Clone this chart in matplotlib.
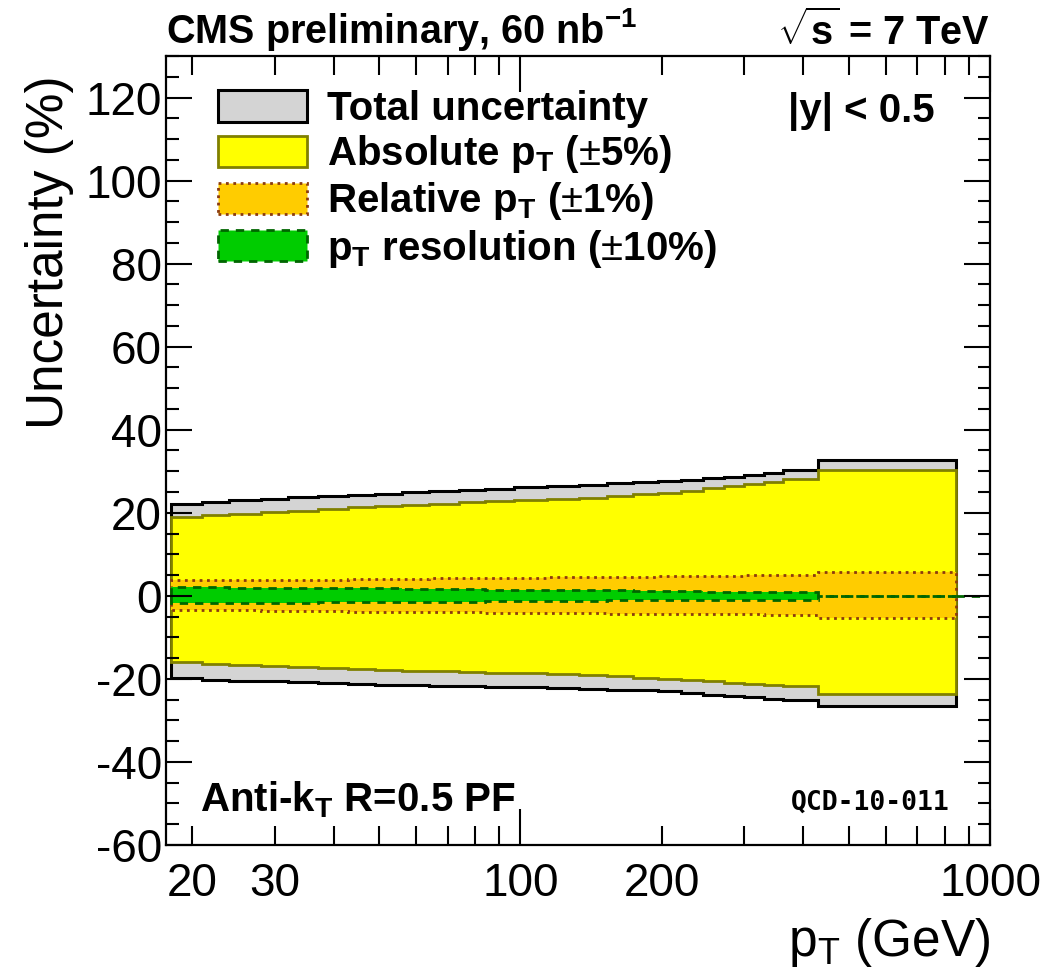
import matplotlib
matplotlib.use("Agg")
import matplotlib.pyplot as plt
from matplotlib.patches import Patch
from matplotlib.ticker import MultipleLocator

plt.rcParams['font.family'] = ['Liberation Sans', 'DejaVu Sans']
plt.rcParams['mathtext.fontset'] = 'custom'
plt.rcParams['mathtext.rm'] = 'Liberation Sans'
plt.rcParams['mathtext.bf'] = 'Liberation Sans:bold'
plt.rcParams['axes.unicode_minus'] = False

# pT bin edges (GeV)
edges = [18, 21, 24, 28, 32, 37, 43, 49, 56, 64, 74, 84, 97, 114, 133, 153,
         174, 196, 220, 245, 272, 300, 330, 362, 430, 846]
tail_edges = [846, 967]

# uncertainties in % per bin
total_up = [22.1, 22.7, 23.0, 23.4, 23.7, 24.0, 24.3, 24.6, 24.9, 25.2, 25.5, 25.8, 26.1,
            26.5, 26.8, 27.1, 27.4, 27.7, 28.0, 28.3, 28.7, 29.1, 29.6, 30.4, 32.8]
total_lo = [-19.8, -20.2, -20.4, -20.6, -20.8, -21.0, -21.2, -21.4, -21.5, -21.7, -21.8, -21.9, -22.0,
            -22.2, -22.4, -22.6, -22.8, -23.0, -23.4, -23.8, -24.1, -24.4, -24.8, -25.2, -26.6]
abs_up = [18.9, 19.5, 19.8, 20.1, 20.5, 20.9, 21.3, 21.6, 21.9, 22.2, 22.5, 22.8, 23.0,
          23.2, 23.6, 24.0, 24.4, 24.8, 25.3, 25.9, 26.4, 26.9, 27.4, 28.1, 30.3]
abs_lo = [-16.0, -16.4, -16.6, -16.9, -17.1, -17.4, -17.6, -17.8, -18.0, -18.2, -18.4, -18.5, -18.7,
          -18.8, -19.1, -19.4, -19.7, -20.0, -20.3, -20.6, -20.9, -21.2, -21.5, -21.8, -23.6]
rel_up = [3.7, 3.7, 3.8, 3.8, 3.9, 3.9, 4.0, 4.1, 4.1, 4.2, 4.3, 4.4, 4.4,
          4.5, 4.5, 4.6, 4.6, 4.7, 4.7, 4.8, 4.8, 4.9, 5.0, 5.1, 5.7]
rel_lo = [-3.4, -3.5, -3.5, -3.6, -3.7, -3.7, -3.8, -3.9, -3.9, -4.0, -4.0, -4.1, -4.1,
          -4.2, -4.2, -4.3, -4.3, -4.3, -4.4, -4.4, -4.5, -4.5, -4.6, -4.6, -5.4]
res_up = [2.1, 2.1, 2.0, 2.0, 1.9, 1.9, 1.85, 1.8, 1.7, 1.7, 1.6, 1.5, 1.5,
          1.4, 1.3, 1.3, 1.2, 1.1, 1.1, 1.0, 1.0, 0.9, 0.9, 0.8, 0.0]
res_lo = [-1.8, -1.8, -1.7, -1.7, -1.7, -1.6, -1.6, -1.5, -1.5, -1.4, -1.4, -1.3, -1.3,
          -1.2, -1.2, -1.1, -1.1, -1.1, -1.0, -1.0, -1.0, -1.0, -0.9, -0.9, 0.0]
tail = [0.0]

labels = ['Total uncertainty',
          r'Absolute p$_\mathregular{T}$ ($\pm$5%)',
          r'Relative p$_\mathregular{T}$ ($\pm$1%)',
          r'p$_\mathregular{T}$ resolution ($\pm$10%)']

xmajor = [100, 1000]
xminor = [20, 30, 40, 50, 60, 70, 80, 90, 200, 300, 400, 500, 600, 700, 800, 900]
xminor_labels = ['20', '30', '', '', '', '', '', '', '200', '', '', '', '', '', '', '']

# style for each band: fill, edge, linestyle, linewidth
bands = [
    (total_up, total_lo, '#d4d4d4', 'black', '-', 2.2),
    (abs_up, abs_lo, '#ffff00', '#808000', '-', 2.0),
    (rel_up, rel_lo, '#ffcc00', '#8b3a0f', ':', 2.0),
    (res_up, res_lo, '#00cc00', '#006600', (0, (3, 2.5)), 2.0),
]

fig = plt.figure(figsize=(10.45, 9.72), dpi=100)
ax = fig.add_axes([0.1589, 0.1307, 0.7885, 0.8117])

handles = []
for up, lo, fc, ec, ls, lw in bands:
    ax.stairs(up, edges, baseline=lo, fill=True, color=fc, lw=0)
    ax.stairs(up, edges, baseline=0, color=ec, ls=ls, lw=lw)
    ax.stairs(lo, edges, baseline=0, color=ec, ls=ls, lw=lw)
    handles.append(Patch(facecolor=fc, edgecolor=ec, linestyle=ls, linewidth=lw))
ax.stairs(tail, tail_edges, baseline=None, color='#006600', ls=(0, (3, 2.5)), lw=2.0)

ax.set_xscale('log')
ax.set_xlim(17.6, 1000)
ax.set_ylim(-60, 130)

ax.set_xticks(xmajor, labels=[str(v) for v in xmajor])
ax.set_xticks(xminor, labels=xminor_labels, minor=True)
ax.set_yticks(range(-60, 121, 20))
ax.yaxis.set_minor_locator(MultipleLocator(5))

ax.tick_params(which='both', direction='in', top=True, right=True, labelsize=33, width=1.5)
ax.tick_params(axis='x', which='major', length=26, pad=12)
ax.tick_params(axis='x', which='minor', length=14, pad=12)
ax.tick_params(axis='y', which='major', length=19, pad=3)
ax.tick_params(axis='y', which='minor', length=9)
for s in ax.spines.values():
    s.set_linewidth(1.6)

ax.set_ylabel('Uncertainty (%)', fontsize=37, loc='top')
ax.yaxis.set_label_coords(-0.112, 0.975)
ax.set_xlabel(r'p$_\mathregular{T}$ (GeV)', fontsize=37, loc='right')
ax.xaxis.set_label_coords(1.0, -0.09)

ax.text(0.0, 1.004, r'CMS preliminary, 60 nb$^\mathregular{-1}$', transform=ax.transAxes,
        fontsize=28.5, fontweight='bold', ha='left', va='bottom')
ax.text(1.0, 1.004, r'$\sqrt{\mathregular{s}}$ = 7 TeV', transform=ax.transAxes,
        fontsize=28.5, fontweight='bold', ha='right', va='bottom')
ax.text(0.933, 0.93, '|y| < 0.5', transform=ax.transAxes,
        fontsize=29, fontweight='bold', ha='right', va='center')
ax.text(0.041, 0.057, r'Anti-k$_\mathregular{T}$ R=0.5 PF', transform=ax.transAxes,
        fontsize=29, fontweight='bold', ha='left', va='center')
ax.text(0.951, 0.053, 'QCD-10-011', transform=ax.transAxes,
        fontsize=19, fontweight='bold', ha='right', va='center', family='DejaVu Sans Mono')

ax.legend(handles, labels, loc='upper left', bbox_to_anchor=(0.063, 0.957),
          frameon=False, prop={'weight': 'bold', 'size': 29},
          handlelength=2.2, handleheight=0.82, handletextpad=0.5,
          labelspacing=0.13, borderaxespad=0, borderpad=0)

fig.savefig('out.png', dpi=100)
